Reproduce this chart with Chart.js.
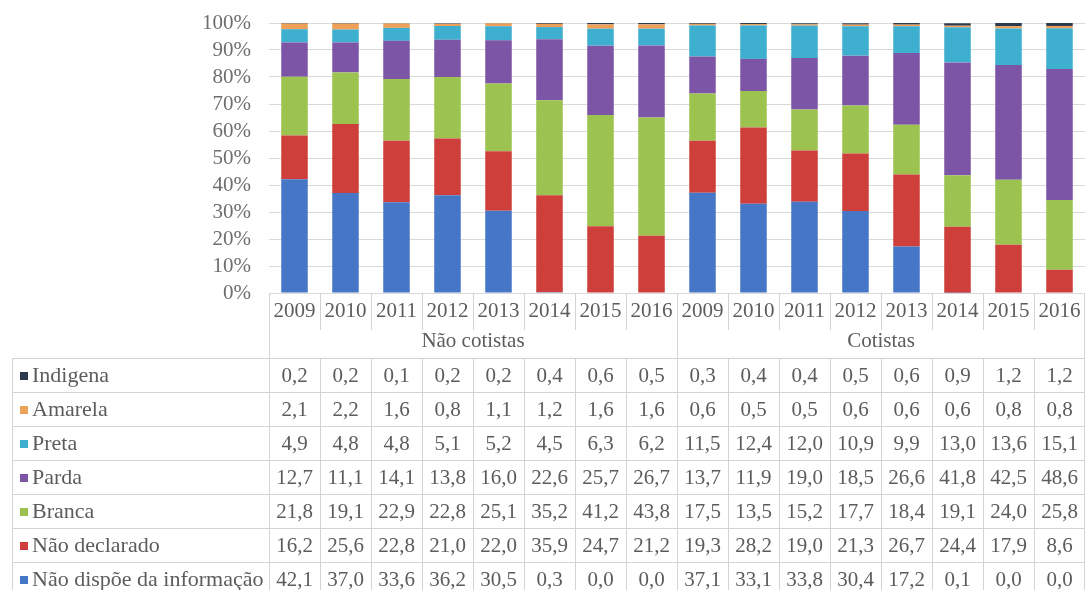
<!DOCTYPE html>
<html>
<head>
<meta charset="utf-8">
<script src="https://cdn.jsdelivr.net/npm/chart.js@4/dist/chart.umd.min.js"></script>
<style>
  html, body { margin: 0; padding: 0; background: #ffffff; }
  canvas { display: block; }
</style>
</head>
<body>
<canvas id="chart" width="1085" height="590"></canvas>
<script>
// Years shown under each group of bars
const years = ['2009', '2010', '2011', '2012', '2013', '2014', '2015', '2016'];
// Student groups (each spans all years)
const groups = ['Não cotistas', 'Cotistas'];

// Shares (%) per category, first the 8 "Não cotistas" years then the 8 "Cotistas" years
const naoDispoe    = [42.1, 37.0, 33.6, 36.2, 30.5, 0.3, 0.0, 0.0,   37.1, 33.1, 33.8, 30.4, 17.2, 0.1, 0.0, 0.0];
const naoDeclarado = [16.2, 25.6, 22.8, 21.0, 22.0, 35.9, 24.7, 21.2, 19.3, 28.2, 19.0, 21.3, 26.7, 24.4, 17.9, 8.6];
const branca       = [21.8, 19.1, 22.9, 22.8, 25.1, 35.2, 41.2, 43.8, 17.5, 13.5, 15.2, 17.7, 18.4, 19.1, 24.0, 25.8];
const parda        = [12.7, 11.1, 14.1, 13.8, 16.0, 22.6, 25.7, 26.7, 13.7, 11.9, 19.0, 18.5, 26.6, 41.8, 42.5, 48.6];
const preta        = [4.9, 4.8, 4.8, 5.1, 5.2, 4.5, 6.3, 6.2,         11.5, 12.4, 12.0, 10.9, 9.9, 13.0, 13.6, 15.1];
const amarela      = [2.1, 2.2, 1.6, 0.8, 1.1, 1.2, 1.6, 1.6,         0.6, 0.5, 0.5, 0.6, 0.6, 0.6, 0.8, 0.8];
const indigena     = [0.2, 0.2, 0.1, 0.2, 0.2, 0.4, 0.6, 0.5,         0.3, 0.4, 0.4, 0.5, 0.6, 0.9, 1.2, 1.2];

// Series names, bottom of the stack first
const seriesNames = ['Não dispõe da informação', 'Não declarado', 'Branca', 'Parda', 'Preta', 'Amarela', 'Indigena'];
const seriesValues = [naoDispoe, naoDeclarado, branca, parda, preta, amarela, indigena];
const seriesColors = ['#4677C6', '#CE3F3B', '#9CC24F', '#7D55A6', '#3EAFCF', '#EE9F58', '#2B3A4E'];

// Y axis tick values
const yTicks = [0, 10, 20, 30, 40, 50, 60, 70, 80, 90, 100];

const labels = groups.flatMap(() => years);

const FONT = '"Liberation Serif", "Times New Roman", serif';
const TEXT = '#5c5c5c';
const LINE = '#d3d3d3';

function fmt(v) {
  return v.toFixed(1).replace('.', ',');
}

// Draws the year row, group row and the data table under the plot,
// with every column placed from the x scale.
const dataTablePlugin = {
  id: 'dataTable',
  afterDraw(chart) {
    const ctx = chart.ctx;
    const xs = chart.scales.x;
    const area = chart.chartArea;
    const n = labels.length;
    const colW = xs.getPixelForValue(1) - xs.getPixelForValue(0);
    const edge = i => Math.round(xs.getPixelForValue(i) - colW / 2) + 0.5;
    const bottom = Math.round(area.bottom);
    const yearRowH = 37;
    const tableTop = bottom + 65;
    const rowH = 34;
    const tableLeft = 12.5;
    const rows = seriesNames.length;

    ctx.save();
    ctx.strokeStyle = LINE;
    ctx.lineWidth = 1;

    // vertical lines in the header area
    for (let i = 0; i <= n; i++) {
      const x = i === n ? Math.round(area.right) - 0.5 : edge(i);
      const isGroupEdge = i % years.length === 0;
      ctx.beginPath();
      ctx.moveTo(x, bottom);
      ctx.lineTo(x, isGroupEdge ? tableTop : bottom + yearRowH);
      ctx.stroke();
    }

    // horizontal table lines
    for (let r = 0; r <= rows; r++) {
      const y = tableTop + r * rowH + 0.5;
      ctx.beginPath();
      ctx.moveTo(tableLeft, y);
      ctx.lineTo(area.right, y);
      ctx.stroke();
    }

    // vertical table lines
    const tableBottom = tableTop + rows * rowH;
    const vx = [tableLeft];
    for (let i = 0; i <= n; i++) vx.push(i === n ? Math.round(area.right) - 0.5 : edge(i));
    vx.forEach(x => {
      ctx.beginPath();
      ctx.moveTo(x, tableTop);
      ctx.lineTo(x, tableBottom);
      ctx.stroke();
    });

    // year labels
    ctx.fillStyle = TEXT;
    ctx.font = '21px ' + FONT;
    ctx.textAlign = 'center';
    ctx.textBaseline = 'middle';
    for (let i = 0; i < n; i++) {
      ctx.fillText(labels[i], xs.getPixelForValue(i), bottom + 18);
    }

    // group labels
    groups.forEach((g, gi) => {
      const a = xs.getPixelForValue(gi * years.length) - colW / 2;
      const b = xs.getPixelForValue((gi + 1) * years.length - 1) + colW / 2;
      ctx.fillText(g, (a + b) / 2, bottom + 48);
    });

    // table rows: top of the stack first
    for (let r = 0; r < rows; r++) {
      const s = rows - 1 - r;
      const cy = tableTop + r * rowH + rowH / 2 + 1;
      ctx.fillStyle = seriesColors[s];
      ctx.fillRect(20, Math.round(cy - 4), 8, 8);
      ctx.fillStyle = TEXT;
      ctx.textAlign = 'left';
      ctx.font = '22px ' + FONT;
      ctx.fillText(seriesNames[s], 32, cy);
      ctx.font = '21px ' + FONT;
      ctx.textAlign = 'center';
      for (let i = 0; i < n; i++) {
        ctx.fillText(fmt(seriesValues[s][i]), xs.getPixelForValue(i), cy);
      }
    }
    ctx.restore();
  }
};

new Chart(document.getElementById('chart'), {
  type: 'bar',
  data: {
    labels: labels,
    datasets: seriesNames.map((name, k) => ({
      label: name,
      data: seriesValues[k],
      backgroundColor: seriesColors[k],
      borderWidth: 0,
      barPercentage: 0.52,
      categoryPercentage: 1
    }))
  },
  options: {
    responsive: false,
    animation: false,
    events: [],
    layout: { padding: { left: 0, right: 0, top: 23, bottom: 297 } },
    plugins: {
      legend: { display: false },
      tooltip: { enabled: false }
    },
    scales: {
      x: {
        stacked: true,
        display: false
      },
      y: {
        stacked: true,
        min: 0,
        max: 100,
        afterFit(scale) { scale.width = 269; },
        afterBuildTicks(scale) { scale.ticks = yTicks.map(v => ({ value: v })); },
        ticks: {
          autoSkip: false,
          padding: 0,
          color: '#6e6e6e',
          font: { family: FONT, size: 21 },
          callback: v => v + '%'
        },
        grid: {
          color: '#d9d9d9',
          drawTicks: true,
          tickLength: 18,
          tickColor: 'rgba(0,0,0,0)'
        },
        border: { display: false }
      }
    }
  },
  plugins: [dataTablePlugin]
});
</script>
</body>
</html>
